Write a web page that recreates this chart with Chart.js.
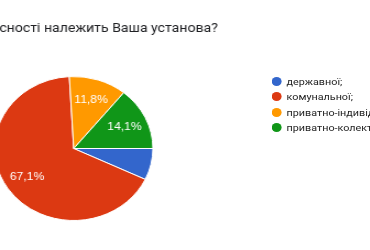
<!DOCTYPE html>
<html>
<head>
<meta charset="utf-8">
<script src="https://cdn.jsdelivr.net/npm/chart.js@4"></script>
<style>
  html, body { margin: 0; padding: 0; width: 370px; height: 250px; overflow: hidden; background: #fff; }
  /* reference screenshot is stretched ~1.1x horizontally */
  #wrap { position: relative; width: 340px; height: 250px; transform: scaleX(1.1); transform-origin: 0 0; }
  #pie { position: absolute; left: -13px; top: 0; }
  #legend { position: absolute; left: 247px; top: 74px; margin: 0; padding: 0; list-style: none;
            font: 9.8px Roboto, Arial, sans-serif; color: #222; white-space: nowrap; }
  #legend li { height: 15.3px; line-height: 15.3px; display: flex; align-items: center; }
  #legend .dot { width: 9px; height: 9px; border-radius: 50%; margin-right: 4.5px; flex: none; }
</style>
</head>
<body>
<div id="wrap">
  <canvas id="pie" width="400" height="250"></canvas>
  <ul id="legend"></ul>
</div>
<script>
const title = "До якої форми власності належить Ваша установа?";
const labels = ["державної;", "комунальної;", "приватно-індивідуальної;", "приватно-колективної;"];
const counts = [6, 57, 10, 12];
const colors = ["#3366cc", "#dc3912", "#ff9900", "#109618"];

const total = counts.reduce((a, b) => a + b, 0);

// legend (html)
const legendEl = document.getElementById("legend");
labels.forEach((l, i) => {
  const li = document.createElement("li");
  li.innerHTML = `<span class="dot" style="background:${colors[i]}"></span><span>${l}</span>`;
  legendEl.appendChild(li);
});

// title, right end is at x=198 (wrapper) -> canvas 211
const titlePlugin = {
  id: "clippedTitle",
  afterDraw(chart) {
    const ctx = chart.ctx;
    ctx.save();
    ctx.font = "12.8px Roboto, Arial, sans-serif";
    ctx.fillStyle = "#202124";
    ctx.textAlign = "right";
    ctx.textBaseline = "alphabetic";
    ctx.fillText(title, 211, 31.5);
    ctx.restore();
  }
};

// percent labels inside the slices (small slices skipped, like google charts)
const pctPlugin = {
  id: "pctLabels",
  afterDatasetsDraw(chart) {
    const ctx = chart.ctx;
    const meta = chart.getDatasetMeta(0);
    ctx.save();
    ctx.font = "11px Arial, sans-serif";
    ctx.fillStyle = "#fff";
    ctx.textAlign = "center";
    ctx.textBaseline = "middle";
    meta.data.forEach((arc, i) => {
      const pct = counts[i] / total * 100;
      if (pct < 10) return;
      const p = arc.getProps(["x", "y", "startAngle", "endAngle", "outerRadius"], true);
      const mid = (p.startAngle + p.endAngle) / 2;
      const r = p.outerRadius * 0.71;
      ctx.fillText(pct.toFixed(1).replace(".", ",") + "%", p.x + Math.cos(mid) * r, p.y + Math.sin(mid) * r);
    });
    ctx.restore();
  }
};

new Chart(document.getElementById("pie"), {
  type: "pie",
  data: {
    labels,
    datasets: [{ data: counts, backgroundColor: colors, borderColor: "#fff", borderWidth: 1 }]
  },
  options: {
    responsive: false,
    animation: false,
    rotation: 90,
    layout: { padding: { left: 0, right: 240, top: 76, bottom: 29 } },
    plugins: { legend: { display: false }, title: { display: false }, tooltip: { enabled: false } }
  },
  plugins: [titlePlugin, pctPlugin]
});
</script>
</body>
</html>
